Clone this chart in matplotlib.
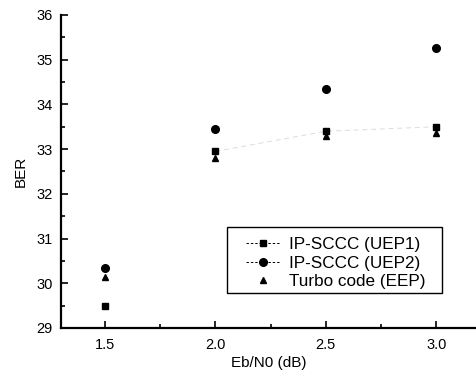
import matplotlib
matplotlib.use("Agg")
import matplotlib.pyplot as plt
from matplotlib.ticker import MultipleLocator
from matplotlib.patches import Rectangle

plt.rcParams['font.family'] = ['Liberation Sans', 'DejaVu Sans']

ebn0 = [1.5, 2.0, 2.5, 3.0]
uep1 = [29.5, 32.95, 33.4, 33.5]
uep2 = [30.35, 33.45, 34.35, 35.25]
turbo = [30.15, 32.8, 33.3, 33.35]
labels = ["IP-SCCC (UEP1)", "IP-SCCC (UEP2)", "Turbo code (EEP)"]

fig = plt.figure(figsize=(4.76, 3.74), dpi=100)
ax = fig.add_axes([0.128, 0.123, 0.872, 0.837])

ax.plot(ebn0[1:], uep1[1:], ls=(0, (5, 4)), color='#dcdcdc', lw=0.7, zorder=1)
ax.plot(ebn0, uep1, ls='none', marker='s', ms=5, color='black', zorder=3)
ax.plot(ebn0, uep2, ls='none', marker='o', ms=5.5, color='black', zorder=3)
ax.plot(ebn0, turbo, ls='none', marker='^', ms=4.5, color='black', zorder=3)

h1, = ax.plot([], [], ls=(0, (2.5, 2)), lw=0.7, marker='s', ms=5, color='black')
h2, = ax.plot([], [], ls=(0, (2.5, 2)), lw=0.7, marker='o', ms=5.5, color='black')
h3, = ax.plot([], [], ls='none', marker='^', ms=4.5, color='black')
leg = ax.legend([h1, h2, h3], labels, loc='center left',
                bbox_to_anchor=(2.14, 30.45), bbox_transform=ax.transData,
                fontsize=12.3, frameon=False,
                handlelength=2.0, handletextpad=0.5, borderpad=0,
                labelspacing=0.22, borderaxespad=0)
ax.add_patch(Rectangle((2.05, 29.78), 3.027 - 2.05, 31.26 - 29.78,
                       fill=False, edgecolor='black', lw=1.0, zorder=4))

ax.set_xlim(1.30, 3.18)
ax.set_ylim(29, 36)
ax.xaxis.set_major_locator(MultipleLocator(0.5))
ax.xaxis.set_minor_locator(MultipleLocator(0.25))
ax.yaxis.set_major_locator(MultipleLocator(1))
ax.yaxis.set_minor_locator(MultipleLocator(0.5))
ax.set_xticks(ebn0)
ax.set_xticklabels(['1.5', '2.0', '2.5', '3.0'])
ax.tick_params(which='both', direction='in', width=1.2, labelsize=10.5)
ax.tick_params(which='major', length=5)
ax.tick_params(which='minor', length=3)
ax.tick_params(axis='x', pad=7)
ax.tick_params(axis='y', pad=6)
for s in ['top', 'right']:
    ax.spines[s].set_visible(False)
for s in ['left', 'bottom']:
    ax.spines[s].set_linewidth(1.6)

ax.set_xlabel('Eb/N0 (dB)', fontsize=11, labelpad=3)
ax.set_ylabel('BER', fontsize=11, labelpad=6)

fig.savefig('out.png', dpi=100)
